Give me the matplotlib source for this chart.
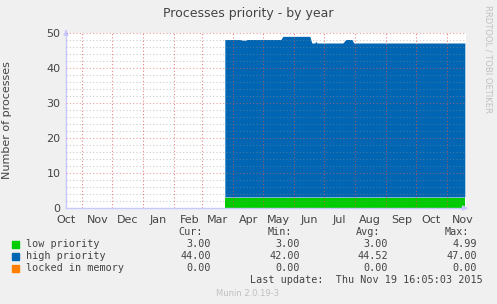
import datetime
import numpy as np
import matplotlib
matplotlib.use('Agg')
import matplotlib.pyplot as plt

# data (stacked total = low + high)
end = datetime.datetime(2015, 11, 19, 16, 5, 3)
start = end - datetime.timedelta(days=400)
dates = ['2015-03-24', '2015-03-25', '2015-04-09', '2015-04-10', '2015-04-14', '2015-04-15',
         '2015-05-19', '2015-05-21', '2015-06-17', '2015-06-19', '2015-06-22', '2015-06-23',
         '2015-06-24', '2015-07-20', '2015-07-23', '2015-07-29', '2015-07-31', '2015-11-19']
low_prio = [3, 3, 3, 3, 3, 3, 3, 3, 3, 3, 3, 3, 3, 3, 3, 3, 3, 3]
high_prio = [45, 45, 45, 44.8, 44.8, 45, 45, 45.9, 45.9, 44, 44, 44.5, 44, 44, 45, 45, 44, 44]
locked = [0] * 18

legend_names = ['low priority', 'high priority', 'locked in memory']
legend_colors = ['#00cc00', '#0066b3', '#ff8000']
cur = ['3.00', '44.00', '0.00']
mins = ['3.00', '42.00', '0.00']
avgs = ['3.00', '44.52', '0.00']
maxs = ['4.99', '47.00', '0.00']

month_lines = [datetime.datetime(2014, m, 1) for m in (11, 12)] + \
              [datetime.datetime(2015, m, 1) for m in range(1, 12)]
label_pos = [datetime.datetime(2014, m, 16) for m in (10, 11, 12)] + \
            [datetime.datetime(2015, m, 16) for m in range(1, 12)]
label_txt = ['Oct', 'Nov', 'Dec', 'Jan', 'Feb', 'Mar', 'Apr', 'May', 'Jun', 'Jul',
             'Aug', 'Sep', 'Oct', 'Nov']

W, H = 497, 304
fig = plt.figure(figsize=(W / 100, H / 100), dpi=100, facecolor='#f0f0f0')
ax = fig.add_axes([66 / W, (H - 208) / H, 400 / W, 175 / H])
ax.set_facecolor('white')

x = [datetime.datetime.strptime(d, '%Y-%m-%d') for d in dates]
ax.stackplot(x, low_prio, high_prio, locked, colors=legend_colors, linewidth=0)

ax.set_xlim(start, end)
ax.set_ylim(0, 50)

# grid on top, like rrdtool
for yv in np.arange(2, 50, 2):
    if yv % 10:
        ax.axhline(yv, color='#8f8f8f', alpha=0.45, lw=0.8, ls=(0, (1, 2)), zorder=5)
for yv in (10, 20, 30, 40, 50):
    ax.axhline(yv, color='#e06060', alpha=0.6, lw=0.8, ls=(0, (1, 2)), zorder=5, clip_on=False)
for d in month_lines:
    ax.axvline(d, color='#e05050', alpha=0.7, lw=0.8, ls=(0, (1, 2)), zorder=5)

for s in ['top', 'right']:
    ax.spines[s].set_visible(False)
for s in ['left', 'bottom']:
    ax.spines[s].set_color('#c8c8ff')
    ax.spines[s].set_linewidth(1)
ax.annotate('', xy=(1.012, 0), xytext=(0.99, 0), xycoords='axes fraction',
            arrowprops=dict(arrowstyle='-|>', color='#c8c8ff', lw=1, mutation_scale=7))
ax.annotate('', xy=(0, 1.035), xytext=(0, 0.99), xycoords='axes fraction',
            arrowprops=dict(arrowstyle='-|>', color='#c8c8ff', lw=1, mutation_scale=7))

ax.set_xticks(label_pos)
ax.set_xticklabels(label_txt)
ax.set_yticks([0, 10, 20, 30, 40, 50])
ax.tick_params(length=0, labelsize=8, colors='#444444')
ax.tick_params(axis='x', pad=5)
ax.tick_params(axis='y', pad=4)
ax.set_ylabel('Number of processes', fontsize=8, color='#444444')
ax.yaxis.set_label_coords(-54 / 400, 0.5)

fig.text(248 / W, 1 - 14 / H, 'Processes priority - by year', ha='center', va='center',
         fontsize=9, color='#444444')
fig.text(488 / W, 1 - 5 / H, 'RRDTOOL / TOBI OETIKER', rotation=270, ha='center', va='top',
         fontsize=6, color='#c0c0c0')

mono = 'DejaVu Sans Mono'
fs = 7.3
tc = '#444444'
fig.text(203 / W, 1 - 232 / H, 'Cur:', ha='right', va='center', family=mono, fontsize=fs, color=tc)
fig.text(292 / W, 1 - 232 / H, 'Min:', ha='right', va='center', family=mono, fontsize=fs, color=tc)
fig.text(380 / W, 1 - 232 / H, 'Avg:', ha='right', va='center', family=mono, fontsize=fs, color=tc)
fig.text(469 / W, 1 - 232 / H, 'Max:', ha='right', va='center', family=mono, fontsize=fs, color=tc)
for i in range(3):
    yy = 1 - (244 + 12 * i) / H
    fig.patches.append(plt.Rectangle((12 / W, yy - 3.5 / H), 7 / W, 7 / H, transform=fig.transFigure,
                                     color=legend_colors[i], figure=fig))
    fig.text(26 / W, yy, legend_names[i], ha='left', va='center', family=mono, fontsize=fs, color=tc)
    fig.text(211 / W, yy, cur[i], ha='right', va='center', family=mono, fontsize=fs, color=tc)
    fig.text(300 / W, yy, mins[i], ha='right', va='center', family=mono, fontsize=fs, color=tc)
    fig.text(388 / W, yy, avgs[i], ha='right', va='center', family=mono, fontsize=fs, color=tc)
    fig.text(477 / W, yy, maxs[i], ha='right', va='center', family=mono, fontsize=fs, color=tc)
fig.text(483 / W, 1 - 280 / H, 'Last update:  Thu Nov 19 16:05:03 2015', ha='right', va='center',
         family=mono, fontsize=fs, color=tc)
fig.text(248 / W, 1 - 293 / H, 'Munin 2.0.19-3', ha='center', va='center', fontsize=6,
         color='#c0c0c0')

fig.savefig('out.png', dpi=100, facecolor=fig.get_facecolor())
